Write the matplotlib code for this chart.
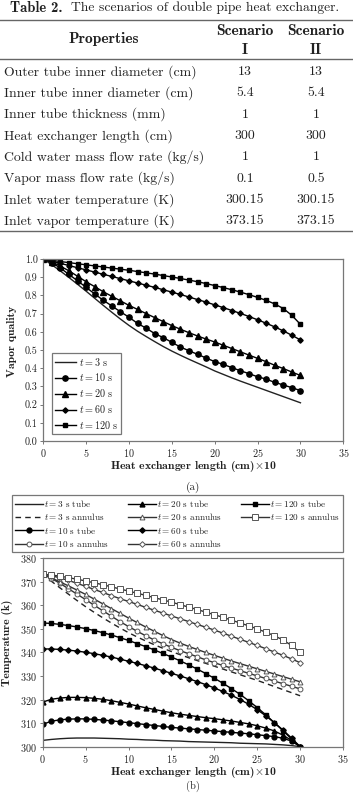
import matplotlib
matplotlib.use('Agg')
import matplotlib.pyplot as plt
from matplotlib.lines import Line2D

# ---------------- data ----------------
table_title_bold = "Table 2."
table_title_rest = "The scenarios of double pipe heat exchanger."
table_header = "Properties"
scenario_heads = ["Scenario", "Scenario"]
scenario_ids = ["I", "II"]
properties = ["Outer tube inner diameter (cm)",
              "Inner tube inner diameter (cm)",
              "Inner tube thickness (mm)",
              "Heat exchanger length (cm)",
              "Cold water mass flow rate (kg/s)",
              "Vapor mass flow rate (kg/s)",
              "Inlet water temperature (K)",
              "Inlet vapor temperature (K)"]
scenario1 = ["13", "5.4", "1", "300", "1", "0.1", "300.15", "373.15"]
scenario2 = ["13", "5.4", "1", "300", "1", "0.5", "300.15", "373.15"]

x = [0, 1, 2, 3, 4, 5, 6, 7, 8, 9, 10, 11, 12, 13, 14, 15, 16, 17, 18, 19, 20,
     21, 22, 23, 24, 25, 26, 27, 28, 29, 30]

# (a) vapor quality
q_3s = [1.000, 0.968, 0.934, 0.898, 0.861, 0.823, 0.784, 0.745, 0.707, 0.670, 0.635,
        0.603, 0.574, 0.546, 0.519, 0.494, 0.471, 0.449, 0.428, 0.407, 0.385,
        0.366, 0.347, 0.329, 0.312, 0.295, 0.278, 0.261, 0.244, 0.227, 0.210]
q_10s = [1.000, 0.980, 0.950, 0.915, 0.880, 0.844, 0.808, 0.773, 0.742, 0.710, 0.680,
         0.646, 0.620, 0.590, 0.568, 0.542, 0.516, 0.496, 0.476, 0.456, 0.436,
         0.421, 0.403, 0.386, 0.370, 0.353, 0.340, 0.322, 0.308, 0.293, 0.277]
q_20s = [1.000, 0.985, 0.960, 0.935, 0.905, 0.875, 0.848, 0.820, 0.795, 0.770, 0.745,
         0.723, 0.700, 0.678, 0.656, 0.634, 0.614, 0.595, 0.577, 0.560, 0.544,
         0.526, 0.508, 0.490, 0.472, 0.454, 0.436, 0.416, 0.398, 0.379, 0.360]
q_60s = [1.000, 0.988, 0.976, 0.964, 0.952, 0.940, 0.928, 0.916, 0.904, 0.892, 0.880,
         0.868, 0.856, 0.844, 0.831, 0.818, 0.805, 0.791, 0.777, 0.763, 0.748,
         0.733, 0.717, 0.701, 0.684, 0.666, 0.647, 0.627, 0.605, 0.581, 0.555]
q_120s = [1.000, 0.993, 0.986, 0.980, 0.974, 0.968, 0.962, 0.956, 0.950, 0.944, 0.938,
          0.931, 0.924, 0.917, 0.909, 0.901, 0.893, 0.884, 0.875, 0.865, 0.854,
          0.843, 0.831, 0.818, 0.804, 0.789, 0.773, 0.753, 0.728, 0.690, 0.641]
labels_a = ["$t=3$ s", "$t=10$ s", "$t=20$ s", "$t=60$ s", "$t=120$ s"]

# (b) temperatures
T_3s_tube = [302.8, 303.2, 303.5, 303.7, 303.8, 303.8, 303.8, 303.7, 303.6, 303.5, 303.3,
             303.2, 303.0, 302.9, 302.7, 302.6, 302.5, 302.3, 302.2, 302.1, 302.0,
             301.9, 301.8, 301.6, 301.5, 301.4, 301.3, 301.1, 300.9, 300.6, 300.15]
T_3s_ann = [373.15, 370.2, 367.4, 364.7, 362.0, 359.4, 357.0, 354.7, 352.5, 350.4, 348.4,
            346.6, 344.9, 343.3, 341.8, 340.4, 339.1, 337.8, 336.6, 335.4, 334.2,
            333.0, 331.8, 330.6, 329.4, 328.2, 326.9, 325.6, 324.3, 323.0, 321.7]
T_10s_tube = [309.6, 310.9, 311.5, 311.8, 311.9, 311.9, 311.7, 311.4, 311.1, 310.7, 310.3,
              309.9, 309.5, 309.1, 308.7, 308.3, 308.0, 307.7, 307.4, 307.1, 306.8,
              306.5, 306.2, 305.9, 305.6, 305.2, 304.8, 304.4, 303.7, 302.5, 300.15]
T_10s_ann = [373.15, 371.4, 369.3, 367.0, 364.7, 362.4, 360.0, 357.7, 355.4, 353.1, 351.0,
             349.0, 347.1, 345.3, 343.7, 342.2, 340.8, 339.5, 338.2, 336.9, 335.7,
             334.5, 333.4, 332.3, 331.2, 330.1, 329.0, 327.9, 326.8, 325.7, 324.6]
T_20s_tube = [319.0, 320.2, 320.7, 321.0, 321.0, 320.9, 320.6, 320.2, 319.6, 318.9, 318.2,
              317.4, 316.6, 315.9, 315.2, 314.5, 313.9, 313.4, 312.9, 312.4, 312.0,
              311.5, 311.0, 310.4, 309.8, 309.0, 308.0, 306.8, 305.0, 302.8, 300.15]
T_20s_ann = [373.15, 371.6, 369.9, 368.2, 366.4, 364.6, 362.6, 360.6, 358.6, 356.6, 354.6,
             352.7, 350.8, 349.0, 347.2, 345.5, 344.0, 342.6, 341.3, 340.0, 338.8,
             337.6, 336.4, 335.3, 334.2, 333.1, 332.0, 330.9, 329.8, 328.7, 327.6]
T_60s_tube = [341.5, 341.5, 341.3, 341.0, 340.6, 340.1, 339.5, 338.8, 338.1, 337.2, 336.3,
              335.4, 334.4, 333.4, 332.3, 331.2, 330.1, 328.9, 327.7, 326.4, 325.0,
              323.5, 321.9, 320.1, 318.1, 315.8, 313.2, 310.3, 307.2, 303.8, 300.15]
T_60s_ann = [373.15, 372.5, 371.6, 370.5, 369.3, 368.0, 366.7, 365.4, 364.1, 362.8, 361.6,
             360.4, 359.1, 357.9, 356.7, 355.5, 354.3, 353.1, 351.9, 350.7, 349.5,
             348.2, 346.9, 345.6, 344.3, 343.0, 341.6, 340.2, 338.8, 337.3, 335.7]
T_120s_tube = [352.5, 352.3, 351.9, 351.4, 350.8, 350.1, 349.3, 348.4, 347.4, 346.3, 345.1,
               343.8, 342.5, 341.1, 339.6, 338.1, 336.5, 334.8, 333.0, 331.1, 329.1,
               327.0, 324.7, 322.3, 319.6, 316.7, 313.6, 310.3, 306.9, 303.4, 300.15]
T_120s_ann = [373.15, 372.8, 372.3, 371.7, 371.0, 370.3, 369.5, 368.7, 367.8, 366.9, 366.0,
              365.1, 364.2, 363.2, 362.3, 361.3, 360.3, 359.2, 358.2, 357.1, 356.0,
              354.9, 353.7, 352.5, 351.3, 350.0, 348.6, 347.1, 345.3, 343.0, 340.0]
labels_b = ["$t=3$ s tube", "$t=3$ s annulus", "$t=10$ s tube", "$t=10$ s annulus",
            "$t=20$ s tube", "$t=20$ s annulus", "$t=60$ s tube", "$t=60$ s annulus",
            "$t=120$ s tube", "$t=120$ s annulus"]

xticks = [0, 5, 10, 15, 20, 25, 30, 35]
yticks_a = [0.0, 0.1, 0.2, 0.3, 0.4, 0.5, 0.6, 0.7, 0.8, 0.9, 1.0]
yticks_b = [300, 310, 320, 330, 340, 350, 360, 370, 380]
xlabel = r"Heat exchanger length (cm)$\mathbf{\times}$10"

# ---------------- style ----------------
plt.rcParams['font.family'] = ['cmr10', 'DejaVu Serif']
plt.rcParams['mathtext.fontset'] = 'cm'
plt.rcParams['axes.unicode_minus'] = False
plt.rcParams['axes.formatter.use_mathtext'] = True

W, H = 353, 793
fig = plt.figure(figsize=(W / 100, H / 100), dpi=100)
R = fig.canvas.get_renderer()
def fx(p): return p / W
def fy(p): return 1 - p / H

BOLD = ['cmb10', 'DejaVu Serif']
GRAY = '#777777'
TXT = '#222222'

def fit(t, target):
    w = t.get_window_extent(R).width
    t.set_fontsize(t.get_fontsize() * target / w)

# ---------------- table ----------------
t1 = fig.text(fx(10), fy(8), table_title_bold, family=BOLD, fontsize=9, va='center', color=TXT)
fit(t1, 52)
t2 = fig.text(fx(71), fy(8), table_title_rest, fontsize=9, va='center', color=TXT)
fit(t2, 269)
for yy in (20, 59, 231):
    fig.add_artist(Line2D([fx(0), fx(352)], [fy(yy), fy(yy)], color='#666666', lw=1.0))
th = fig.text(fx(104), fy(39), table_header, family=BOLD, fontsize=9, ha='center', va='center', color=TXT)
fit(th, 71)
for cx, head, sid in zip((245, 316), scenario_heads, scenario_ids):
    fig.text(fx(cx), fy(31), head, family=BOLD, fontsize=th.get_fontsize(), ha='center', va='center', color=TXT)
    fig.text(fx(cx), fy(50), sid, family=BOLD, fontsize=th.get_fontsize(), ha='center', va='center', color=TXT)
row_y = [72, 93.3, 114.6, 136, 157, 178.5, 199.8, 221]
rl = fig.text(fx(3.5), fy(row_y[0]), properties[0], fontsize=9, va='center', color=TXT)
fit(rl, 193)
fs_tab = rl.get_fontsize()
for i, (p, s1, s2) in enumerate(zip(properties, scenario1, scenario2)):
    if i > 0:
        fig.text(fx(3.5), fy(row_y[i]), p, fontsize=fs_tab, va='center', color=TXT)
    fig.text(fx(245), fy(row_y[i]), s1, fontsize=fs_tab, ha='center', va='center', color=TXT)
    fig.text(fx(316), fy(row_y[i]), s2, fontsize=fs_tab, ha='center', va='center', color=TXT)

# ---------------- axes helper ----------------
FS_TICK = 7.3
def style_axes(ax):
    for s in ax.spines.values():
        s.set_color(GRAY)
        s.set_linewidth(0.9)
    ax.tick_params(direction='out', length=2.5, width=0.7, color=GRAY,
                   labelsize=FS_TICK, labelcolor=TXT, pad=1.5)
    ax.set_xlim(0, 35)
    ax.set_xticks(xticks)

# ---------------- panel (a) ----------------
axA = fig.add_axes([fx(43.3), fy(441), 300 / W, 182 / H])
style_axes(axA)
axA.set_ylim(0, 1.0)
axA.set_yticks(yticks_a)
axA.set_yticklabels(["%.1f" % v for v in yticks_a])
lw = 1.0
axA.plot(x, q_3s, color='#222222', lw=lw, label=labels_a[0])
axA.plot(x, q_10s, color='black', lw=lw, marker='o', ms=3.8, label=labels_a[1])
axA.plot(x, q_20s, color='black', lw=lw, marker='^', ms=3.8, label=labels_a[2])
axA.plot(x, q_60s, color='black', lw=lw, marker='D', ms=2.7, label=labels_a[3])
axA.plot(x, q_120s, color='black', lw=lw, marker='s', ms=3.3, label=labels_a[4])
legA = axA.legend(loc='lower left', bbox_to_anchor=(0.028, 0.038), borderaxespad=0,
                  fontsize=7.3, handlelength=2.1, handletextpad=0.3, labelspacing=0.38,
                  borderpad=0.3, fancybox=False, framealpha=1, edgecolor=GRAY)
legA.get_frame().set_linewidth(0.9)
for t in legA.get_texts():
    t.set_color(TXT)
xa = fig.text(fx(193), fy(466), xlabel, family=BOLD, fontsize=7, ha='center', va='center', color=TXT)
fit(xa, 167)
fig.text(fx(12), fy(341), "Vapor quality", family=BOLD, fontsize=xa.get_fontsize(), ha='center',
         va='center', rotation=90, color=TXT)
fig.text(fx(193), fy(487), "(a)", fontsize=8, ha='center', va='center', color=TXT)

# ---------------- panel (b) ----------------
axB = fig.add_axes([fx(42.7), fy(747), 300.3 / W, 189 / H])
style_axes(axB)
axB.set_ylim(300, 380)
axB.set_yticks(yticks_b)
ms = 3.5
oc = '#555555'
hB = []
hB += axB.plot(x, T_3s_tube, color='#222222', lw=lw, label=labels_b[0])
hB += axB.plot(x, T_3s_ann, color='#222222', lw=lw, ls=(0, (4, 3)), label=labels_b[1])
hB += axB.plot(x, T_10s_tube, color='black', lw=lw, marker='o', ms=ms, label=labels_b[2])
hB += axB.plot(x, T_10s_ann, color='#333333', lw=lw, marker='o', ms=ms, mfc='white', mec=oc,
               mew=0.7, label=labels_b[3])
hB += axB.plot(x, T_20s_tube, color='black', lw=lw, marker='^', ms=ms, label=labels_b[4])
hB += axB.plot(x, T_20s_ann, color='#333333', lw=lw, marker='^', ms=ms, mfc='white', mec=oc,
               mew=0.7, label=labels_b[5])
hB += axB.plot(x, T_60s_tube, color='black', lw=lw, marker='D', ms=2.7, label=labels_b[6])
hB += axB.plot(x, T_60s_ann, color='#333333', lw=lw, marker='D', ms=2.9, mfc='white', mec=oc,
               mew=0.7, label=labels_b[7])
hB += axB.plot(x, T_120s_tube, color='black', lw=lw, marker='s', ms=3.3, label=labels_b[8])
hB += axB.plot(x, T_120s_ann, color='#333333', lw=lw, marker='s', ms=3.9, mfc='white', mec=oc,
               mew=0.7, label=labels_b[9])
# two blank slots so the 3-column legend fills 4 + 4 + 2 like the reference
blank = Line2D([], [], linestyle='none')
handles_leg = hB + [blank, blank]
labels_leg = labels_b + ["", ""]
legB = fig.legend(handles=handles_leg, labels=labels_leg, loc='lower left',
                  bbox_to_anchor=(fx(12), fy(552), 331 / W, 50 / H), mode='expand', ncol=3,
                  borderaxespad=0, fontsize=6.6, handlelength=3.0, handletextpad=0.15,
                  labelspacing=0.25, borderpad=0.35, fancybox=False, framealpha=1,
                  edgecolor=GRAY)
legB.get_frame().set_linewidth(0.9)
for t in legB.get_texts():
    t.set_color(TXT)
fig.text(fx(193), fy(772), xlabel, family=BOLD, fontsize=xa.get_fontsize(), ha='center',
         va='center', color=TXT)
fig.text(fx(8), fy(643), "Temperature (k)", family=BOLD, fontsize=xa.get_fontsize(),
         ha='center', va='center', rotation=90, color=TXT)
fig.text(fx(193), fy(786.5), "(b)", fontsize=7.5, ha='center', va='center', color=TXT)

fig.savefig('out.png', dpi=100)
